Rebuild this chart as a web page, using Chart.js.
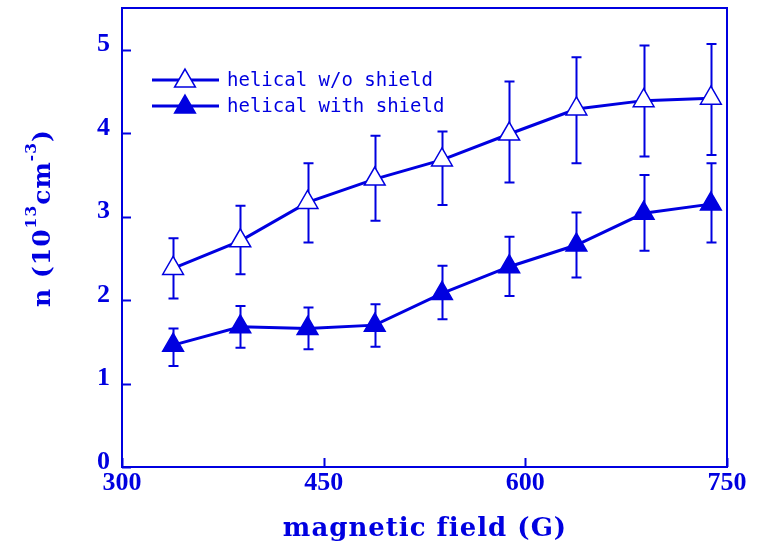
<!DOCTYPE html>
<html lang="en">
<head>
    <meta charset="UTF-8">
    <title>n vs magnetic field</title>
    <script src="https://cdn.jsdelivr.net/npm/chart.js"></script>
    <style>
        html, body { margin: 0; padding: 0; background: #fff; }
        #wrap { width: 758px; height: 554px; }
    </style>
</head>
<body>
<div id="wrap"><canvas id="nChart" width="758" height="554"></canvas></div>
<script>
    // datos
    const fieldG = [338, 388, 438, 488, 538, 588, 638, 688, 738];
    const noShield = [2.38, 2.71, 3.17, 3.45, 3.68, 3.99, 4.29, 4.39, 4.42];
    const noShieldHi = [2.74, 3.13, 3.64, 3.97, 4.02, 4.62, 4.91, 5.05, 5.07];
    const noShieldLo = [2.02, 2.31, 2.69, 2.95, 3.14, 3.41, 3.64, 3.72, 3.74];
    const withShield = [1.46, 1.68, 1.66, 1.70, 2.08, 2.40, 2.66, 3.04, 3.15];
    const withShieldHi = [1.66, 1.93, 1.91, 1.95, 2.41, 2.76, 3.05, 3.50, 3.64];
    const withShieldLo = [1.21, 1.43, 1.41, 1.44, 1.77, 2.05, 2.27, 2.59, 2.69];
    const xTicks = [300, 450, 600, 750];
    const yTicks = [0, 1, 2, 3, 4, 5];
    const seriesNames = ['helical w/o shield', 'helical with shield'];

    const BLUE = '#0000e0';

    function toPoints(ys) {
        return fieldG.map((x, i) => ({ x: x, y: ys[i] }));
    }

    // barras de error (debajo de los marcadores)
    const errorBars = {
        id: 'errorBars',
        beforeDatasetsDraw(chart) {
            const ctx = chart.ctx;
            const xs = chart.scales.x, ys = chart.scales.y;
            const sets = [[noShieldLo, noShieldHi], [withShieldLo, withShieldHi]];
            ctx.save();
            ctx.strokeStyle = BLUE;
            ctx.lineWidth = 2;
            sets.forEach(([lo, hi]) => {
                fieldG.forEach((g, i) => {
                    const px = Math.round(xs.getPixelForValue(g)) + 0.5;
                    const top = ys.getPixelForValue(hi[i]);
                    const bot = ys.getPixelForValue(lo[i]);
                    ctx.beginPath();
                    ctx.moveTo(px, top); ctx.lineTo(px, bot);
                    ctx.moveTo(px - 5, top); ctx.lineTo(px + 5, top);
                    ctx.moveTo(px - 5, bot); ctx.lineTo(px + 5, bot);
                    ctx.stroke();
                });
            });
            ctx.restore();
        }
    };

    function triangle(ctx, x, y, r, filled) {
        ctx.beginPath();
        for (let k = 0; k < 3; k++) {
            const a = k * 2 * Math.PI / 3;
            const px = x + Math.sin(a) * r, py = y - Math.cos(a) * r;
            if (k === 0) ctx.moveTo(px, py); else ctx.lineTo(px, py);
        }
        ctx.closePath();
        ctx.fillStyle = filled ? BLUE : '#fff';
        ctx.fill();
        ctx.lineWidth = 1.5;
        ctx.strokeStyle = BLUE;
        ctx.stroke();
    }

    // marco, ticks hacia dentro, leyenda y títulos de ejes
    const frameAndText = {
        id: 'frameAndText',
        afterDraw(chart) {
            const ctx = chart.ctx;
            const a = chart.chartArea;
            const xs = chart.scales.x, ys = chart.scales.y;
            ctx.save();
            ctx.strokeStyle = BLUE;
            ctx.lineWidth = 2;
            ctx.strokeRect(a.left, a.top, a.right - a.left, a.bottom - a.top);
            ctx.beginPath();
            xTicks.forEach(v => {
                const px = Math.round(xs.getPixelForValue(v)) + 0.5;
                ctx.moveTo(px, a.bottom); ctx.lineTo(px, a.bottom - 9);
            });
            yTicks.forEach(v => {
                const py = Math.round(ys.getPixelForValue(v)) + 0.5;
                ctx.moveTo(a.left, py); ctx.lineTo(a.left + 9, py);
            });
            ctx.stroke();

            // leyenda
            const rows = [80, 106];
            ctx.font = '19px "DejaVu Sans Mono"';
            ctx.textBaseline = 'middle';
            ctx.textAlign = 'left';
            rows.forEach((ry, i) => {
                ctx.strokeStyle = BLUE;
                ctx.lineWidth = 3;
                ctx.beginPath();
                ctx.moveTo(152, ry); ctx.lineTo(219, ry);
                ctx.stroke();
                triangle(ctx, 185, ry + 1, 12, i === 1);
                ctx.fillStyle = BLUE;
                ctx.fillText(seriesNames[i], 227, ry + 1);
            });

            // título eje x
            ctx.fillStyle = BLUE;
            ctx.font = 'bold 26px "DejaVu Serif"';
            ctx.letterSpacing = '1px';
            ctx.textAlign = 'center';
            ctx.textBaseline = 'alphabetic';
            ctx.fillText('magnetic field (G)', 425, 536);

            // título eje y con superíndices
            const F = 25;
            const runs = [
                { t: 'n (10', size: F, rise: 0 },
                { t: '13', size: F * 0.62, rise: F * 0.55 },
                { t: 'cm', size: F, rise: 0 },
                { t: '-3', size: F * 0.62, rise: F * 0.55 },
                { t: ')', size: F, rise: 0 }
            ];
            ctx.letterSpacing = '1px';
            let total = 0;
            runs.forEach(r => {
                ctx.font = 'bold ' + r.size + 'px "DejaVu Serif"';
                r.w = ctx.measureText(r.t).width;
                total += r.w;
            });
            ctx.translate(50, 218);
            ctx.rotate(-Math.PI / 2);
            ctx.textAlign = 'left';
            let cx = -total / 2;
            runs.forEach(r => {
                ctx.font = 'bold ' + r.size + 'px "DejaVu Serif"';
                ctx.fillText(r.t, cx, -r.rise);
                cx += r.w;
            });
            ctx.restore();
        }
    };

    const chart = new Chart(document.getElementById('nChart').getContext('2d'), {
        type: 'line',
        data: {
            datasets: [
                {
                    label: seriesNames[0],
                    data: toPoints(noShield),
                    borderColor: BLUE,
                    borderWidth: 3,
                    tension: 0,
                    pointStyle: 'triangle',
                    pointRadius: 12,
                    pointBackgroundColor: '#fff',
                    pointBorderColor: BLUE,
                    pointBorderWidth: 1.5
                },
                {
                    label: seriesNames[1],
                    data: toPoints(withShield),
                    borderColor: BLUE,
                    borderWidth: 3,
                    tension: 0,
                    pointStyle: 'triangle',
                    pointRadius: 12,
                    pointBackgroundColor: BLUE,
                    pointBorderColor: BLUE,
                    pointBorderWidth: 1.5
                }
            ]
        },
        options: {
            responsive: false,
            animation: false,
            events: [],
            layout: { autoPadding: false, padding: { top: 8, right: 31, left: 0, bottom: 0 } },
            plugins: { legend: { display: false }, tooltip: { enabled: false } },
            scales: {
                x: {
                    type: 'linear',
                    min: 300, max: 750,
                    afterBuildTicks: s => { s.ticks = xTicks.map(v => ({ value: v })); },
                    afterFit: s => { s.height = 87; s.paddingLeft = 0; s.paddingRight = 0; },
                    grid: { display: false, drawTicks: false },
                    border: { display: false },
                    ticks: {
                        color: BLUE,
                        padding: 1,
                        maxRotation: 0,
                        font: { family: '"Liberation Serif"', size: 26, weight: 'bold' }
                    }
                },
                y: {
                    min: 0, max: 5.5,
                    afterBuildTicks: s => { s.ticks = yTicks.map(v => ({ value: v })); },
                    afterFit: s => { s.width = 122; s.paddingTop = 0; s.paddingBottom = 0; },
                    grid: { display: false, drawTicks: false },
                    border: { display: false },
                    ticks: {
                        color: BLUE,
                        padding: 12,
                        labelOffset: -5,
                        font: { family: '"Liberation Serif"', size: 26, weight: 'bold' }
                    }
                }
            }
        },
        plugins: [errorBars, frameAndText]
    });
</script>
</body>
</html>
